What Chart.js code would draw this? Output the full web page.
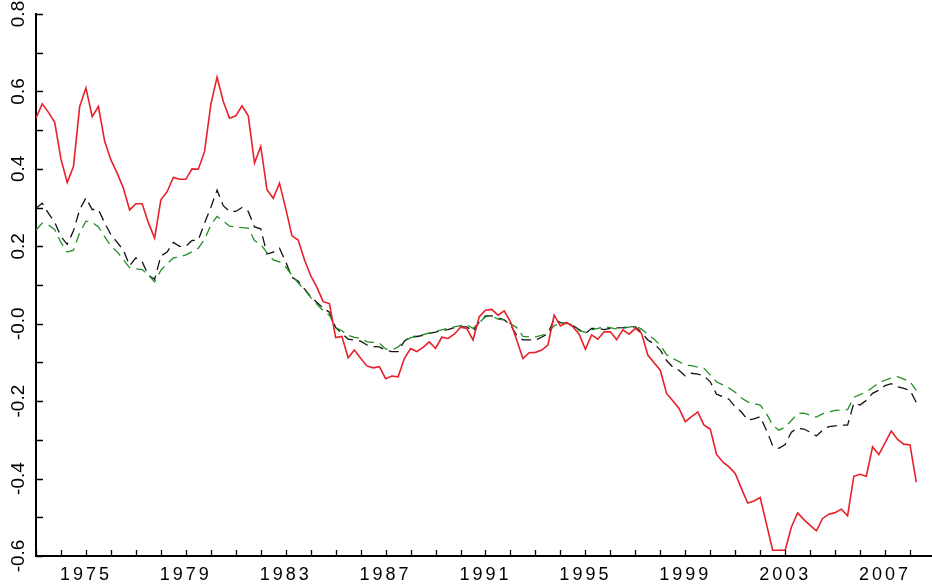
<!DOCTYPE html>
<html lang="en">
<head>
    <meta charset="UTF-8">
    <title>Quarterly series 1973-2008</title>
    <script src="https://cdn.jsdelivr.net/npm/chart.js"></script>
    <style>
        body {
            margin: 0;
            background: #fff;
        }
        canvas {
            display: block;
        }
    </style>
</head>
<body>
<canvas id="chart" width="932" height="588"></canvas>

<script>
    // quarterly data, first point is 1973 Q1
    const startYear = 1973;

    const redSeries = [
        0.531, 0.568, 0.546, 0.520, 0.425, 0.365, 0.406, 0.561, 0.609, 0.535,
        0.561, 0.471, 0.423, 0.389, 0.350, 0.294, 0.310, 0.310, 0.261, 0.221,
        0.320, 0.341, 0.378, 0.373, 0.373, 0.400, 0.399, 0.445, 0.566, 0.637,
        0.574, 0.531, 0.537, 0.563, 0.537, 0.415, 0.458, 0.346, 0.324, 0.363,
        0.298, 0.227, 0.216, 0.165, 0.124, 0.094, 0.057, 0.052, -0.036, -0.033,
        -0.088, -0.068, -0.089, -0.109, -0.114, -0.111, -0.142, -0.135, -0.137, -0.090,
        -0.064, -0.072, -0.061, -0.047, -0.064, -0.035, -0.038, -0.027, -0.009, -0.012,
        -0.042, 0.018, 0.035, 0.037, 0.022, 0.033, 0.005, -0.042, -0.090, -0.075,
        -0.074, -0.068, -0.055, 0.022, -0.006, 0.003, -0.008, -0.027, -0.066, -0.029,
        -0.040, -0.021, -0.021, -0.041, -0.016, -0.027, -0.012, -0.025, -0.081, -0.101,
        -0.120, -0.180, -0.199, -0.219, -0.253, -0.240, -0.228, -0.262, -0.272, -0.337,
        -0.357, -0.370, -0.387, -0.426, -0.463, -0.458, -0.449, -0.517, -0.585, -0.585,
        -0.585, -0.525, -0.489, -0.506, -0.521, -0.535, -0.503, -0.492, -0.488, -0.479,
        -0.496, -0.394, -0.389, -0.394, -0.318, -0.338, -0.308, -0.277, -0.299, -0.311,
        -0.313, -0.409
    ];

    const blackSeries = [
        0.298, 0.311, 0.285, 0.262, 0.225, 0.205, 0.240, 0.295, 0.325, 0.295,
        0.295, 0.260, 0.230, 0.210, 0.190, 0.150, 0.170, 0.160, 0.125, 0.115,
        0.175, 0.185, 0.210, 0.200, 0.200, 0.215, 0.216, 0.260, 0.300, 0.345,
        0.305, 0.290, 0.290, 0.300, 0.290, 0.250, 0.245, 0.180, 0.185, 0.195,
        0.160, 0.120, 0.110, 0.090, 0.070, 0.055, 0.040, 0.030, -0.010, -0.025,
        -0.040, -0.042, -0.045, -0.055, -0.059, -0.060, -0.068, -0.072, -0.072, -0.045,
        -0.033, -0.033, -0.030, -0.025, -0.022, -0.018, -0.015, -0.010, -0.008, -0.008,
        -0.020, 0.005, 0.020, 0.020, 0.015, 0.010, -0.003, -0.030, -0.042, -0.042,
        -0.042, -0.035, -0.025, 0.012, 0.003, 0.000, -0.005, -0.015, -0.025, -0.012,
        -0.012, -0.015, -0.012, -0.011, -0.010, -0.008, -0.008, -0.022, -0.042, -0.052,
        -0.068, -0.095, -0.112, -0.120, -0.135, -0.128, -0.130, -0.135, -0.150, -0.182,
        -0.188, -0.195, -0.215, -0.228, -0.249, -0.246, -0.240, -0.275, -0.315, -0.322,
        -0.312, -0.280, -0.270, -0.272, -0.280, -0.290, -0.275, -0.266, -0.264, -0.262,
        -0.262, -0.205, -0.210, -0.198, -0.180, -0.172, -0.160, -0.155, -0.163, -0.167,
        -0.172, -0.203
    ];

    const greenSeries = [
        0.242, 0.260, 0.255, 0.243, 0.210, 0.185, 0.190, 0.235, 0.265, 0.262,
        0.250, 0.225, 0.200, 0.186, 0.165, 0.145, 0.142, 0.140, 0.126, 0.108,
        0.138, 0.155, 0.170, 0.172, 0.178, 0.186, 0.195, 0.218, 0.255, 0.277,
        0.265, 0.252, 0.250, 0.248, 0.247, 0.215, 0.205, 0.183, 0.165, 0.160,
        0.147, 0.125, 0.105, 0.088, 0.068, 0.050, 0.034, 0.022, -0.010, -0.018,
        -0.030, -0.035, -0.038, -0.047, -0.048, -0.050, -0.065, -0.068, -0.060, -0.045,
        -0.036, -0.033, -0.028, -0.024, -0.020, -0.016, -0.012, -0.008, -0.005, -0.003,
        -0.012, 0.003, 0.018, 0.020, 0.012, 0.010, 0.000, -0.010, -0.033, -0.034,
        -0.034, -0.030, -0.024, -0.005, 0.002, 0.002, -0.004, -0.018, -0.022, -0.016,
        -0.012, -0.008, -0.010, -0.014, -0.012, -0.009, -0.006, -0.014, -0.027, -0.040,
        -0.055, -0.080, -0.090, -0.098, -0.107, -0.108, -0.112, -0.115, -0.132, -0.150,
        -0.158, -0.166, -0.177, -0.192, -0.202, -0.206, -0.210, -0.232, -0.262, -0.275,
        -0.267, -0.250, -0.232, -0.231, -0.236, -0.241, -0.233, -0.228, -0.224, -0.223,
        -0.222, -0.190, -0.183, -0.176, -0.165, -0.152, -0.146, -0.140, -0.137, -0.143,
        -0.150, -0.172
    ];

    // axis ranges and labelled ticks
    const xMin = 1973, xMax = 2008.88;
    const yMin = -0.6, yMax = 0.8;
    const yearLabels = [1975, 1979, 1983, 1987, 1991, 1995, 1999, 2003, 2007];
    const yLabels = {'0.8': '0.8', '0.6': '0.6', '0.4': '0.4', '0.2': '0.2', '0.0': '-0.0',
                     '-0.2': '-0.2', '-0.4': '-0.4', '-0.6': '-0.6'};

    const quarters = redSeries.map((_, i) => startYear + i / 4);
    const toPoints = values => values.map((v, i) => ({x: quarters[i], y: v}));

    // ticks point into the plot, like the original
    const inwardTicks = {
        id: 'inwardTicks',
        beforeDraw(chart) {
            // wider letter spacing for the year labels only
            const sx = chart.scales.x;
            if (!sx._spaced) {
                const orig = sx.drawLabels.bind(sx);
                sx.drawLabels = function (area) {
                    this.ctx.save();
                    this.ctx.letterSpacing = '3px';
                    orig(area);
                    this.ctx.restore();
                };
                sx._spaced = true;
            }
        },
        afterDraw(chart) {
            const {ctx, chartArea: a, scales: {x, y}} = chart;
            ctx.save();
            ctx.strokeStyle = '#000';
            ctx.lineWidth = 1.3;
            ctx.beginPath();
            x.ticks.forEach(t => {
                const px = Math.round(x.getPixelForValue(t.value)) + 0.5;
                ctx.moveTo(px, a.bottom);
                ctx.lineTo(px, a.bottom - 6);
            });
            y.ticks.forEach(t => {
                const py = Math.round(y.getPixelForValue(t.value)) + 0.5;
                ctx.moveTo(a.left, py);
                ctx.lineTo(a.left + 7, py);
            });
            ctx.stroke();
            ctx.restore();
        }
    };

    const lineStyle = {pointRadius: 0, borderWidth: 1.3, tension: 0, fill: false};

    new Chart(document.getElementById('chart'), {
        type: 'line',
        data: {
            datasets: [
                {...lineStyle, label: 'red', data: toPoints(redSeries), borderColor: '#e8202a', borderWidth: 1.6, order: 1},
                {...lineStyle, label: 'green', data: toPoints(greenSeries), borderColor: '#248f24', borderDash: [10, 6], order: 2},
                {...lineStyle, label: 'black', data: toPoints(blackSeries), borderColor: '#111111', borderDash: [10, 6], order: 3}
            ]
        },
        options: {
            responsive: false,
            animation: false,
            devicePixelRatio: 1,
            layout: {padding: {top: 14, right: 0, left: 0, bottom: 0}},
            plugins: {
                legend: {display: false},
                tooltip: {enabled: false}
            },
            scales: {
                x: {
                    type: 'linear',
                    min: xMin,
                    max: xMax,
                    grid: {display: false, drawTicks: false},
                    border: {display: true, color: '#000', width: 2},
                    ticks: {
                        stepSize: 1,
                        includeBounds: false,
                        autoSkip: false,
                        maxRotation: 0,
                        padding: 8,
                        color: '#000',
                        font: {family: 'Liberation Sans, Arial, sans-serif', size: 18},
                        callback: v => yearLabels.includes(v) ? String(v) : ''
                    },
                    afterFit: s => { s.height = 32; }
                },
                y: {
                    min: yMin,
                    max: yMax,
                    grid: {display: false, drawTicks: false},
                    border: {display: true, color: '#000', width: 2},
                    ticks: {
                        stepSize: 0.1,
                        autoSkip: false,
                        minRotation: 90,
                        maxRotation: 90,
                        crossAlign: 'center',
                        padding: 1,
                        color: '#000',
                        font: {family: 'Liberation Sans, Arial, sans-serif', size: 19},
                        callback: v => yLabels[(Math.round(v * 10) / 10).toFixed(1)] || ''
                    },
                    afterFit: s => { s.width = 36; }
                }
            }
        },
        plugins: [inwardTicks]
    });
</script>
</body>
</html>
